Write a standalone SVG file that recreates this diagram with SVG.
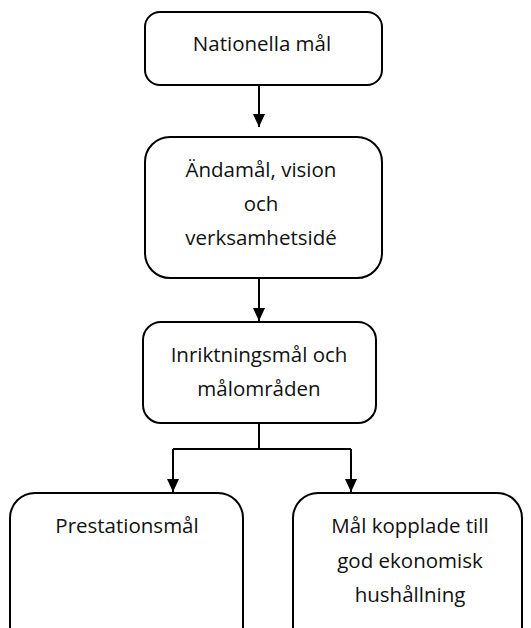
<svg xmlns="http://www.w3.org/2000/svg" width="531" height="628" viewBox="0 0 531 628">
<defs>
<style>
.box{fill:#fff;stroke:#000;stroke-width:2}
.t{font-family:"Open Sans","Noto Sans",sans-serif;font-size:20.5px;fill:#111;text-anchor:middle}
.c{fill:none;stroke:#000;stroke-width:2}
</style>
<marker id="ah" viewBox="0 0 13 12" refX="13" refY="6" markerWidth="13" markerHeight="12" markerUnits="userSpaceOnUse" orient="auto">
<path d="M0,0 L13,6 L0,12 z" fill="#000"/>
</marker>
</defs>
<rect width="531" height="628" fill="#fff"/>
<g id="connectors">
<path class="c" d="M259,85 V127" marker-end="url(#ah)"/>
<path class="c" d="M259,278 V321" marker-end="url(#ah)"/>
<path class="c" d="M259,407 V449 M173,449 H351"/>
<path class="c" d="M173,449 V492" marker-end="url(#ah)"/>
<path class="c" d="M351,449 V492" marker-end="url(#ah)"/>
</g>
<g id="n1">
<rect class="box" x="145" y="12" width="237" height="73" rx="15"/>
<text class="t" x="262" y="51">Nationella mål</text>
</g>
<g id="n2">
<rect class="box" x="145" y="137" width="237" height="141" rx="25"/>
<text class="t" x="261" y="177">Ändamål, vision</text>
<text class="t" x="261" y="211">och</text>
<text class="t" x="261" y="245">verksamhetsidé</text>
</g>
<g id="n3">
<rect class="box" x="143" y="322" width="233" height="101" rx="18"/>
<text class="t" x="259" y="362">Inriktningsmål och</text>
<text class="t" x="259" y="396">målområden</text>
</g>
<g id="n4">
<rect class="box" x="10" y="493" width="233" height="160" rx="25"/>
<text class="t" x="127" y="533">Prestationsmål</text>
</g>
<g id="n5">
<rect class="box" x="293" y="493" width="229" height="160" rx="25"/>
<text class="t" x="410" y="533">Mål kopplade till</text>
<text class="t" x="410" y="568">god ekonomisk</text>
<text class="t" x="410" y="602">hushållning</text>
</g>
</svg>
